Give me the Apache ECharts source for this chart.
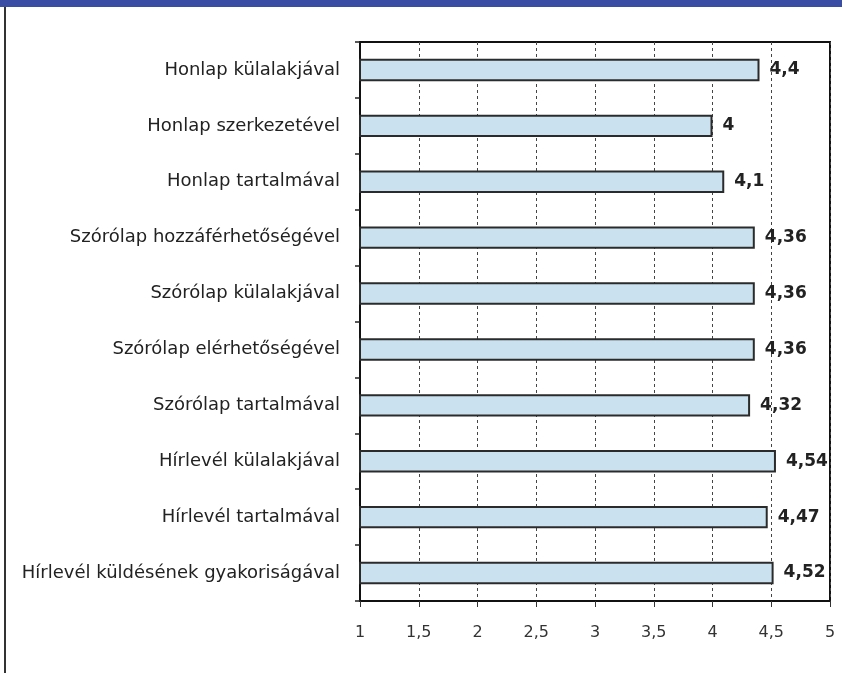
<!DOCTYPE html>
<html>
<head>
<meta charset="utf-8">
<style>
  html, body { margin: 0; padding: 0; background: #ffffff; }
  #chart { width: 842px; height: 673px; }
</style>
<script src="https://cdn.jsdelivr.net/npm/echarts@6/dist/echarts.min.js"></script>
</head>
<body>
<div id="chart"></div>
<script>
// Elégedettség átlagértékei (1–5 skála)
const categories = [
  'Honlap külalakjával',
  'Honlap szerkezetével',
  'Honlap tartalmával',
  'Szórólap hozzáférhetőségével',
  'Szórólap külalakjával',
  'Szórólap elérhetőségével',
  'Szórólap tartalmával',
  'Hírlevél külalakjával',
  'Hírlevél tartalmával',
  'Hírlevél küldésének gyakoriságával'
];
const values = [4.4, 4, 4.1, 4.36, 4.36, 4.36, 4.32, 4.54, 4.47, 4.52];
const axisMin = 1;
const axisMax = 5;
const axisStep = 0.5;

const fmt = v => String(v).replace('.', ',');
const font = '"DejaVu Sans", "Liberation Sans", Arial, sans-serif';

const chart = echarts.init(document.getElementById('chart'));
chart.setOption({
  animation: false,
  backgroundColor: '#ffffff',
  graphic: [
    { type: 'rect', shape: { x: 0, y: 0, width: 842, height: 7 },
      style: { fill: '#3a4da5' } },
    { type: 'line', shape: { x1: 5, y1: 7, x2: 5, y2: 673 },
      style: { stroke: '#333333', lineWidth: 2 } }
  ],
  grid: {
    left: 360, right: 12, top: 42, bottom: 72,
    show: true, borderColor: '#111111', borderWidth: 2,
    backgroundColor: 'transparent'
  },
  xAxis: {
    type: 'value',
    min: axisMin, max: axisMax, interval: axisStep,
    axisLine: { show: true, lineStyle: { color: '#111111', width: 2 } },
    axisTick: { show: true, length: 6, lineStyle: { color: '#333333', width: 1 } },
    axisLabel: {
      formatter: fmt, color: '#333333', fontSize: 16, fontFamily: font, margin: 24
    },
    splitLine: {
      show: true,
      lineStyle: { color: '#444444', width: 1, type: [3, 3] }
    }
  },
  yAxis: {
    type: 'category',
    data: categories,
    inverse: true,
    axisLine: { show: true, lineStyle: { color: '#111111', width: 2 } },
    axisTick: { show: true, length: 5, alignWithLabel: false, lineStyle: { color: '#222222', width: 1.5 } },
    axisLabel: { color: '#222222', fontSize: 18, fontFamily: font, margin: 20 },
    splitLine: { show: false }
  },
  series: [{
    type: 'bar',
    data: values,
    barWidth: '40%',
    itemStyle: { color: '#cae2ef', borderColor: '#2b2b2b', borderWidth: 2 },
    label: {
      show: true, position: 'right', distance: 10,
      formatter: p => fmt(p.value),
      color: '#222222', fontSize: 17, fontWeight: 'bold', fontFamily: font
    }
  }]
});
</script>
</body>
</html>
